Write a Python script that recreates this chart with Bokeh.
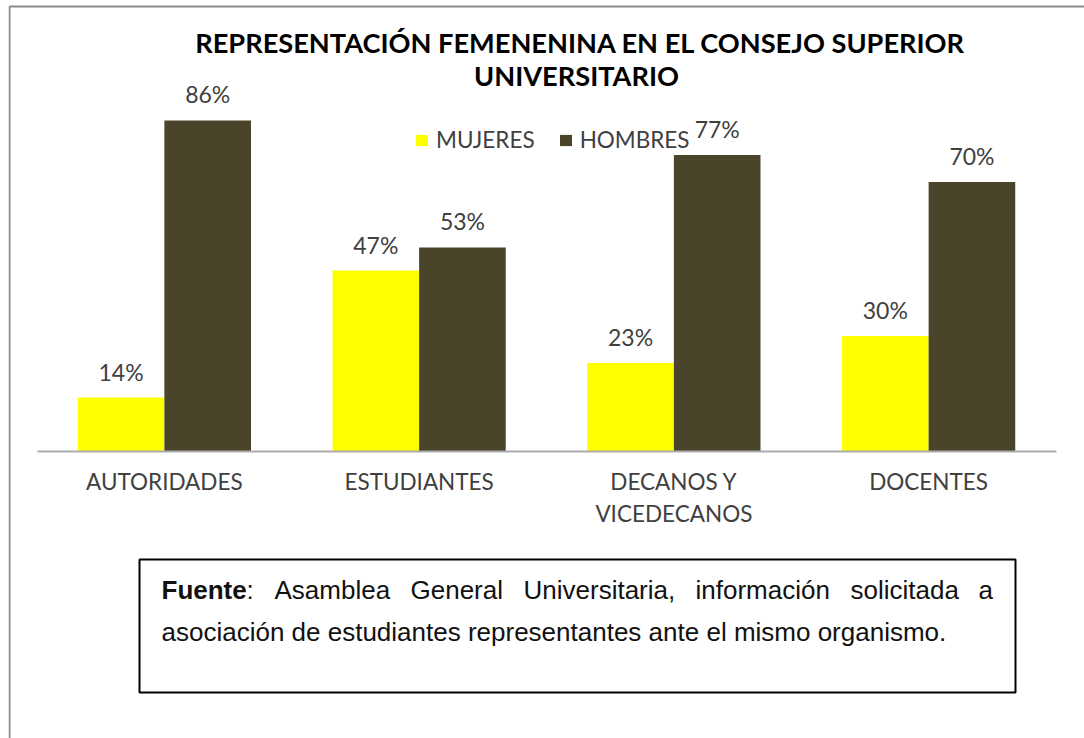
from bokeh.plotting import figure
from bokeh.models import FactorRange, Range1d, Legend, LegendItem, Label, BoxAnnotation, ColumnDataSource
from bokeh.transform import dodge
from bokeh.core.properties import value
from bokeh.embed import file_html
from bokeh.resources import INLINE

# ---- data ----
categories = ["AUTORIDADES", "ESTUDIANTES", "DECANOS Y\nVICEDECANOS", "DOCENTES"]
mujeres = [14, 47, 23, 30]
hombres = [86, 53, 77, 70]
series_names = ["MUJERES", "HOMBRES"]
title_lines = ["REPRESENTACIÓN FEMENENINA EN EL CONSEJO SUPERIOR", "UNIVERSITARIO"]
source_bold = "Fuente"
source_line1_words = [":", "Asamblea", "General", "Universitaria,", "información", "solicitada", "a"]
source_line2 = "asociación de estudiantes representantes ante el mismo organismo."

# ---- layout / styles ----
YELLOW = "#FFFF00"
BROWN = "#4A442A"
TXT = "#404040"
W, H = 1084, 738
FRAME_LEFT = 8                 # canvas px
BASE = 451                     # canvas y of the value-axis zero line
PX_PER_PCT = 3.85              # vertical pixels per percentage point
CAT_PX = 254.75                # pixels per category slot
PAD = ((W - FRAME_LEFT) - CAT_PX * len(categories)) / 2 / CAT_PX


def sx(px):   # canvas x -> frame-relative screen x
    return px - FRAME_LEFT


def sy(py):   # canvas y (top-down) -> frame-relative screen y (bottom-up)
    return H - py


src = ColumnDataSource(dict(
    cat=categories,
    muj=mujeres,
    hom=hombres,
    muj_lbl=[f"{v}%" for v in mujeres],
    hom_lbl=[f"{v}%" for v in hombres],
))

p = figure(x_range=FactorRange(*categories, range_padding=PAD, range_padding_units="absolute"),
           y_range=Range1d(-(H - BASE) / PX_PER_PCT, BASE / PX_PER_PCT),
           width=W, height=H, output_backend="svg", toolbar_location=None,
           x_axis_location="below", y_axis_location=None,
           min_border=0, min_border_left=FRAME_LEFT)
p.outline_line_color = None
p.xgrid.grid_line_color = None
p.ygrid.grid_line_color = None
p.background_fill_color = "white"
p.border_fill_color = "white"

ax = p.xaxis[0]
ax.fixed_location = 0
ax.bounds = (0, len(categories))
ax.axis_line_color = "#ababab"
ax.axis_line_width = 2
ax.major_tick_line_color = None
ax.minor_tick_line_color = None
ax.major_label_text_font = "Lato"
ax.major_label_text_font_size = "22.5px"
ax.major_label_text_color = TXT
ax.major_label_standoff = 10

r1 = p.vbar(x=dodge("cat", -0.17, range=p.x_range), top="muj", width=0.34, source=src,
            fill_color=YELLOW, line_color=None)
r2 = p.vbar(x=dodge("cat", 0.17, range=p.x_range), top="hom", width=0.34, source=src,
            fill_color=BROWN, line_color=None)

for col, off in (("muj", -0.17), ("hom", 0.17)):
    p.text(x=dodge("cat", off, range=p.x_range), y=col, text=col + "_lbl", source=src,
           text_align="center", text_baseline="middle", y_offset=-26,
           text_font=value("Lato"), text_font_size="23px", text_color=TXT)

legend = Legend(items=[LegendItem(label=series_names[0], renderers=[r1]),
                       LegendItem(label=series_names[1], renderers=[r2])],
                orientation="horizontal", location=(sx(414), sy(153)), padding=0, margin=0,
                spacing=23, glyph_width=15, glyph_height=14, label_standoff=7,
                label_text_font="Lato", label_text_font_size="22.5px", label_text_color=TXT,
                border_line_color=None, background_fill_alpha=0)
p.add_layout(legend, "center")

# title
for txt, cx, cy in zip(title_lines, (580, 576), (42, 75)):
    p.add_layout(Label(x=sx(cx), y=sy(cy), x_units="screen", y_units="screen", text=txt,
                       text_align="center", text_baseline="middle", text_font="Lato",
                       text_font_style="bold", text_font_size="27.2px", text_color="black"))

# outer frame (left & top edges visible)
p.add_layout(BoxAnnotation(left=1, right=3000, top=sy(6), bottom=-100,
                           left_units="screen", right_units="screen",
                           top_units="screen", bottom_units="screen",
                           fill_color=None, line_color="#8c8c8c", line_alpha=1.0, line_width=2))

# source box
p.add_layout(BoxAnnotation(left=sx(139), right=sx(1015), top=sy(559), bottom=sy(692),
                           left_units="screen", right_units="screen",
                           top_units="screen", bottom_units="screen",
                           fill_color=None, line_color="black", line_alpha=1.0, line_width=2))

SRC_FONT = "Liberation Sans"
SRC_SIZE = "26px"
SRC_COLOR = "#111111"
p.add_layout(Label(x=sx(161), y=sy(589), x_units="screen", y_units="screen", text=source_bold,
                   text_baseline="middle", text_font=SRC_FONT, text_font_style="bold",
                   text_font_size=SRC_SIZE, text_color=SRC_COLOR))
# justified first line: word start positions
word_x = [246, 274, 410, 523, 695, 850, 978]
for wtxt, wx in zip(source_line1_words, word_x):
    p.add_layout(Label(x=sx(wx), y=sy(589), x_units="screen", y_units="screen", text=wtxt,
                       text_baseline="middle", text_font=SRC_FONT,
                       text_font_size=SRC_SIZE, text_color=SRC_COLOR))
p.add_layout(Label(x=sx(161), y=sy(631), x_units="screen", y_units="screen", text=source_line2,
                   text_baseline="middle", text_font=SRC_FONT,
                   text_font_size=SRC_SIZE, text_color=SRC_COLOR))

open("out.html", "w").write(file_html(p, INLINE))
